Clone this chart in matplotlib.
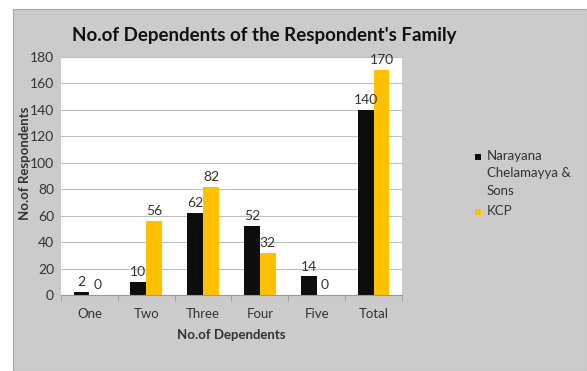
import numpy as np
import matplotlib.pyplot as plt
from matplotlib.patches import Rectangle

categories = ['One', 'Two', 'Three', 'Four', 'Five', 'Total']
narayana = [2, 10, 62, 52, 14, 140]
kcp = [0, 56, 82, 32, 0, 170]
series_names = ['Narayana\nChelamayya &\nSons', 'KCP']
colors = ['#0d0d0d', '#ffc000']

plt.rcParams['font.family'] = ['Lato', 'DejaVu Sans']

W, H = 587, 371
fig = plt.figure(figsize=(W / 100, H / 100), dpi=100)
fig.patch.set_facecolor('white')
fig.patches.append(Rectangle((13 / W, 0), 1 - 13 / W, 1 - 9 / H,
                             transform=fig.transFigure, facecolor='#cbcbcb',
                             edgecolor='#a8a8a8', linewidth=0.8, zorder=-5))

ax = fig.add_axes([61 / W, 1 - 295 / H, 341 / W, 238 / H])
ax.set_facecolor('white')

x = np.arange(len(categories))
w = 0.28
b1 = ax.bar(x - w / 2, narayana, w, color=colors[0], zorder=2)
b2 = ax.bar(x + w / 2, kcp, w, color=colors[1], zorder=2)

for bars, vals in ((b1, narayana), (b2, kcp)):
    for rect, v in zip(bars, vals):
        ax.text(rect.get_x() + rect.get_width() / 2, v + 3, str(v),
                ha='center', va='bottom', fontsize=10, color='#333333')

ax.set_xlim(-0.5, len(categories) - 0.5)
ax.set_ylim(0, 180)
ax.set_yticks(range(0, 181, 20))
ax.yaxis.grid(True, color='#bfbfbf', linewidth=0.8, zorder=0)
ax.set_axisbelow(True)
ax.set_xticks(x)
ax.set_xticklabels(categories, fontsize=9.5, color='#333333')
ax.set_xticks(np.arange(-0.5, len(categories)), minor=True)
ax.tick_params(axis='x', which='major', length=0, pad=9)
ax.tick_params(axis='x', which='minor', length=4, color='#999999')
ax.tick_params(axis='y', length=0, labelsize=10, labelcolor='#333333', pad=5)
for s in ('top', 'right', 'left'):
    ax.spines[s].set_visible(False)
ax.spines['bottom'].set_color('#999999')

ax.set_xlabel('No.of Dependents', fontsize=9.5, fontweight='bold', color='#333333')
ax.xaxis.set_label_coords(0.5, -(335 - 295) / 238)
ax.set_ylabel('No.of Respondents', fontsize=9.5, fontweight='bold', color='#333333')
ax.yaxis.set_label_coords(-(61 - 25) / 341, (295 - 163) / 238)
ax.xaxis.label.set_va('center')
ax.yaxis.label.set_va('center')

fig.text(264 / W, 1 - 36 / H, "No.of Dependents of the Respondent's Family",
         ha='center', va='center', fontsize=13.5, fontweight='bold', color='#111111')

# legend: marker aligned with the first line of each entry
entries = [(series_names[0], colors[0], 157), (series_names[1], colors[1], 212)]
for label, col, ymid in entries:
    fig.patches.append(Rectangle((475 / W, 1 - (ymid + 3) / H), 6 / W, 6 / H,
                                 transform=fig.transFigure, facecolor=col,
                                 edgecolor='none'))
    fig.text(487 / W, 1 - (ymid - 7) / H, label, ha='left', va='top',
             fontsize=9.5, color='#333333', linespacing=1.55)

fig.savefig('out.png', dpi=100, facecolor=fig.get_facecolor())
